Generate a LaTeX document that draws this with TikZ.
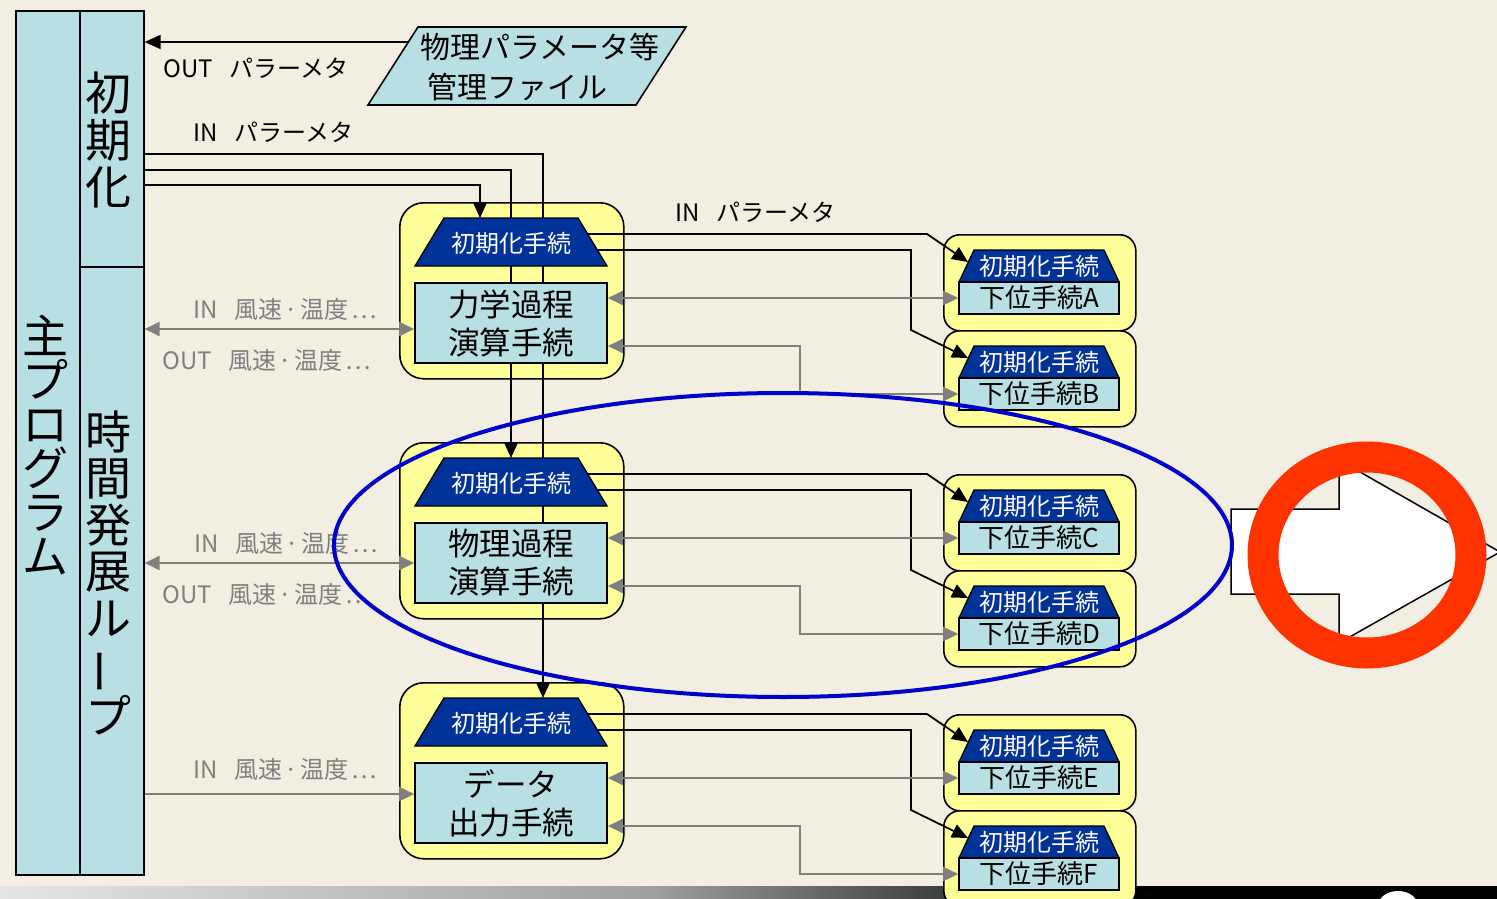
\documentclass[tikz,border=0pt]{standalone}
\usepackage{fontspec}
\setmainfont{Noto Sans CJK JP}
\newfontfamily\latfont{Liberation Sans}
\usetikzlibrary{arrows.meta}
\definecolor{bg}{RGB}{243,238,226}
\definecolor{cyanbox}{RGB}{184,223,227}
\definecolor{yelbox}{RGB}{255,255,153}
\definecolor{navybox}{RGB}{0,51,153}
\definecolor{grayline}{RGB}{128,128,128}
\definecolor{ellblue}{RGB}{0,0,204}
\definecolor{ringred}{RGB}{255,51,0}
\definecolor{barlight}{RGB}{230,230,230}
\definecolor{barmid}{RGB}{160,160,160}

\newcommand\mysub[2]{%
 \node[smally,minimum width=192pt,minimum height=96pt,anchor=north west] (Y#1) at (943,#2) {};
 \path[trapz] (959,#2+48) -- (974,#2+16) -- (1104,#2+16) -- (1119,#2+48) -- cycle;
 \node[traptext] (T#1) at (1039,#2+32) {初期化手続};
 \node[procbox,subtext,minimum width=160pt,minimum height=32pt] (S#1) at (1039,#2+64) {下位手続#1};
 \coordinate (E#1) at (968,#2+28);
}
\newcommand\mybigback[2]{%
 \node[bigy,minimum width=224pt,minimum height=176pt,anchor=north west] (Y#1) at (399,#2) {};
}
\newcommand\mybigfront[3]{%
 \path[trapz] (415,#2+64) -- (444,#2+16) -- (578,#2+16) -- (607,#2+64) -- cycle;
 \node[traptext] (T#1) at (511,#2+41) {初期化手続};
 \node[procbox,proctext,minimum width=192pt,minimum height=80pt] (P#1) at (511,#2+121) {#3};
 \coordinate (R#1a) at (588,#2+32);
 \coordinate (R#1b) at (598,#2+48);
}

\begin{document}
\begin{tikzpicture}[x=1pt,y=-1pt,
 colbox/.style={draw=black,fill=cyanbox,line width=1.6pt},
 bigy/.style={draw=black,fill=yelbox,line width=1.6pt,rounded corners=24pt,inner sep=0pt},
 smally/.style={draw=black,fill=yelbox,line width=1.6pt,rounded corners=16pt,inner sep=0pt},
 trapz/.style={draw=black,fill=navybox,line width=1.3pt},
 procbox/.style={draw=black,fill=cyanbox,line width=1.6pt},
 traptext/.style={text=white,font=\fontsize{24pt}{26pt}\selectfont,inner sep=0pt},
 proctext/.style={align=center,font=\fontsize{31.5pt}{38pt}\selectfont,inner sep=0pt},
 subtext/.style={font=\fontsize{26pt}{28pt}\selectfont,inner sep=0pt},
 vtext/.style={align=center,inner sep=0pt},
 lbl/.style={font=\fontsize{24pt}{26pt}\selectfont,inner sep=0pt,anchor=west},
 glbl/.style={lbl,text=grayline},
 bline/.style={draw=black,line width=1.8pt},
 barrow/.style={bline,-{Triangle[length=16pt,width=14pt]}},
 gline/.style={draw=grayline,line width=2.4pt},
 garrow/.style={gline,-{Triangle[length=15pt,width=14pt]}},
 gdarrow/.style={gline,{Triangle[length=15pt,width=14pt]}-{Triangle[length=15pt,width=14pt]}},
]
\useasboundingbox (0,0) rectangle (1497,899);
\fill[bg] (0,0) rectangle (1497,899);
% bottom bar
\shade[left color=barlight,right color=barmid] (0,886) rectangle (650,899);
\shade[left color=barmid,right color=black] (650,886) rectangle (1130,899);
\fill[black] (1130,886) rectangle (1497,899);
\fill[white] (1398,906) ellipse (20 and 15);

% main program column
\node[colbox,minimum width=128pt,minimum height=864pt,anchor=north west,inner sep=0pt] (MAIN) at (15,10) {};
\node[colbox,minimum width=64pt,minimum height=256pt,anchor=north west,inner sep=0pt] (INIT) at (79,10) {};
\node[colbox,minimum width=64pt,minimum height=608pt,anchor=north west,inner sep=0pt] (LOOP) at (79,266) {};
\node[vtext,font=\fontsize{46pt}{44pt}\selectfont] (MAINT) at (46,445) {主\\プ\\ロ\\グ\\ラ\\ム};
\node[vtext,font=\fontsize{46pt}{47pt}\selectfont] (INITT) at (108,140) {初\\期\\化};
\node[vtext,font=\fontsize{46pt}{46.5pt}\selectfont] (LOOPT) at (108,573) {時\\間\\発\\展\\ル\\\rotatebox[origin=c]{90}{ー}\\プ};

% parameter file
\path[colbox] (418,27) -- (686,27) -- (636,105) -- (368,105) -- cycle;
\node[inner sep=0pt,font=\fontsize{30pt}{32pt}\selectfont] (FILE) at (540,47) {物理パラメータ等};
\node[inner sep=0pt,font=\fontsize{30pt}{32pt}\selectfont] (FILE2) at (517,87) {管理ファイル};
\coordinate (FILEL) at (408,42);

% yellow containers
\mybigback{1}{202}
\mybigback{2}{442}
\mybigback{3}{682}

% init lines
\coordinate (I1) at (143,185);
\coordinate (I2) at (143,170);
\coordinate (I3) at (143,154);
\coordinate (A1) at (480,218);
\coordinate (A2) at (511,458);
\coordinate (A3) at (543,698);
\draw[barrow] (I1) -| (A1);
\draw[barrow] (I2) -| (A2);
\draw[barrow] (I3) -| (A3);
\draw[barrow] (FILEL) -- (INIT.east |- FILEL);

% big units front
\mybigfront{1}{202}{力学過程\\演算手続}
\mybigfront{2}{442}{物理過程\\演算手続}
\mybigfront{3}{682}{データ\\出力手続}

% sub units
\mysub{A}{234}
\mysub{B}{330}
\mysub{C}{474}
\mysub{D}{570}
\mysub{E}{714}
\mysub{F}{810}

% connectors to sub units
\draw[barrow] (R1a) -- ++(339,0) -- (EA);
\draw[barrow] (R1b) -- ++(313,0) -- ++(0,80) -- (EB);
\draw[gdarrow] (P1.east |- SA.west) -- (SA.west);
\draw[gdarrow] ([yshift=-23pt]P1.east) -- ++(192,0) |- (SB.west);

\draw[barrow] (R2a) -- ++(339,0) -- (EC);
\draw[barrow] (R2b) -- ++(313,0) -- ++(0,80) -- (ED);
\draw[gdarrow] (P2.east |- SC.west) -- (SC.west);
\draw[gdarrow] ([yshift=-23pt]P2.east) -- ++(192,0) |- (SD.west);

\draw[barrow] (R3a) -- ++(339,0) -- (EE);
\draw[barrow] (R3b) -- ++(313,0) -- ++(0,80) -- (EF);
\draw[gdarrow] (P3.east |- SE.west) -- (SE.west);
\draw[gdarrow] ([yshift=-23pt]P3.east) -- ++(192,0) |- (SF.west);

% left gray connectors
\coordinate (L1) at ([yshift=-6pt]P1.west);
\coordinate (L2) at ([yshift=0pt]P2.west);
\coordinate (L3) at ([yshift=9pt]P3.west);
\draw[gdarrow] (LOOP.east |- L1) -- (L1);
\draw[gdarrow] (LOOP.east |- L2) -- (L2);
\draw[garrow] (LOOP.east |- L3) -- (L3);

% labels
\node[lbl] (LOUT) at (163,68) {OUT\hspace{0.7em}パラーメタ};
\node[lbl] (LIN) at (193,132) {IN\hspace{0.7em}パラーメタ};
\node[lbl] (LIN2) at (675,212) {IN\hspace{0.7em}パラーメタ};
\node[glbl] (G1i) at (193,309) {IN\hspace{0.7em}風速\hspace{0.1em}·\hspace{0.1em}温度\hspace{0.1em}…};
\node[glbl] (G1o) at (162,360) {OUT\hspace{0.7em}風速\hspace{0.1em}·\hspace{0.1em}温度\hspace{0.1em}…};
\node[glbl] (G2i) at (194,543) {IN\hspace{0.7em}風速\hspace{0.1em}·\hspace{0.1em}温度\hspace{0.1em}…};
\node[glbl] (G2o) at (162,594) {OUT\hspace{0.7em}風速\hspace{0.1em}·\hspace{0.1em}温度\hspace{0.1em}…};
\node[glbl] (G3i) at (193,769) {IN\hspace{0.7em}風速\hspace{0.1em}·\hspace{0.1em}温度\hspace{0.1em}…};

% white block arrow and red ring
\path[draw=black,fill=white,line width=1.5pt] (1231,509) -- (1339,509) -- (1339,460) -- (1500,552) -- (1339,643) -- (1339,594) -- (1231,594) -- cycle;
\draw[ringred,line width=31pt] (1367,555) ellipse (104 and 98);

% blue ellipse
\draw[ellblue,line width=4pt] (783,545) ellipse (449 and 152);
\end{tikzpicture}
\end{document}
